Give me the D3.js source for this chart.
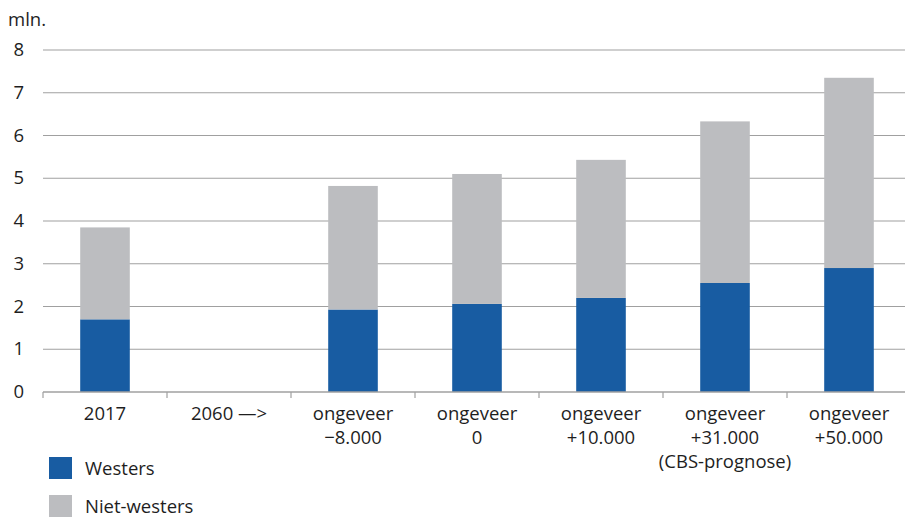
<!DOCTYPE html>
<html><head><meta charset="utf-8">
<script src="https://cdn.jsdelivr.net/npm/d3@7"></script>
<style>body{margin:0;background:#fff}svg{display:block}text{font-family:"Open Sans",sans-serif;fill:#1e1e1e}</style>
</head><body><svg id="c" width="905" height="517"></svg>
<script>
const categories = [["2017"],["2060 —>"],["ongeveer","−8.000"],["ongeveer","0"],["ongeveer","+10.000"],["ongeveer","+31.000","(CBS-prognose)"],["ongeveer","+50.000"]];
const westers = [1.70, null, 1.93, 2.06, 2.20, 2.55, 2.90];
const nietWesters = [2.15, null, 2.89, 3.04, 3.23, 3.78, 4.45];
const yTicks = [0,1,2,3,4,5,6,7,8];
const seriesNames = ["Westers","Niet-westers"];
const colors = ["#185ca2","#bcbdc0"];

(function(){
const svg = d3.select("#c");
const fs = "18.5px";
const mLeft = 43, mRight = 911, mTop = 50, mBottom = 392;
const x = d3.scaleBand().domain(d3.range(categories.length)).range([mLeft,mRight]).padding(0);
const y = d3.scaleLinear().domain([0,8]).range([mBottom,mTop]);

// gridlines
svg.append("g").selectAll("line").data(yTicks.filter(d=>d>0)).join("line")
  .attr("x1",mLeft).attr("x2",905).attr("y1",d=>y(d)).attr("y2",d=>y(d))
  .attr("stroke","#a0a0a0").attr("stroke-width",1.2);

// y labels
svg.append("g").selectAll("text").data(yTicks).join("text")
  .attr("x",24).attr("y",d=>y(d)+6).attr("text-anchor","end")
  .style("font-size",fs).text(d=>d);
svg.append("text").attr("x",8).attr("y",26).style("font-size",fs).text("mln.");

// bars
const bw = x.bandwidth()*0.4;
const stack = categories.map((c,i)=>({i, w:westers[i], n:nietWesters[i]})).filter(d=>d.w!=null);
const g = svg.append("g");
g.selectAll("rect.w").data(stack).join("rect").attr("class","w")
  .attr("x",d=>x(d.i)+x.bandwidth()/2-bw/2).attr("width",bw)
  .attr("y",d=>y(d.w)).attr("height",d=>y(0)-y(d.w)).attr("fill",colors[0]);
g.selectAll("rect.n").data(stack).join("rect").attr("class","n")
  .attr("x",d=>x(d.i)+x.bandwidth()/2-bw/2).attr("width",bw)
  .attr("y",d=>y(d.w+d.n)).attr("height",d=>y(d.w)-y(d.w+d.n)).attr("fill",colors[1]);

// x axis
svg.append("line").attr("x1",mLeft).attr("x2",905).attr("y1",mBottom).attr("y2",mBottom)
  .attr("stroke","#a0a0a0").attr("stroke-width",1.5);
svg.append("g").selectAll("line").data(d3.range(categories.length)).join("line")
  .attr("x1",d=>x(d)).attr("x2",d=>x(d)).attr("y1",mBottom).attr("y2",mBottom+6)
  .attr("stroke","#a0a0a0").attr("stroke-width",1.2);
const lab = svg.append("g").selectAll("text").data(categories).join("text")
  .attr("text-anchor","middle").style("font-size",fs)
  .attr("transform",(d,i)=>`translate(${x(i)+x.bandwidth()/2},420)`);
lab.selectAll("tspan").data(d=>d).join("tspan").attr("x",0).attr("y",(d,j)=>j*24).text(d=>d);

// legend
const leg = svg.append("g").selectAll("g").data(seriesNames).join("g")
  .attr("transform",(d,i)=>`translate(49,${457+i*38})`);
leg.append("rect").attr("width",23).attr("height",22).attr("fill",(d,i)=>colors[i]);
leg.append("text").attr("x",36).attr("y",18).style("font-size",fs).text(d=>d);
})();
</script></body></html>
